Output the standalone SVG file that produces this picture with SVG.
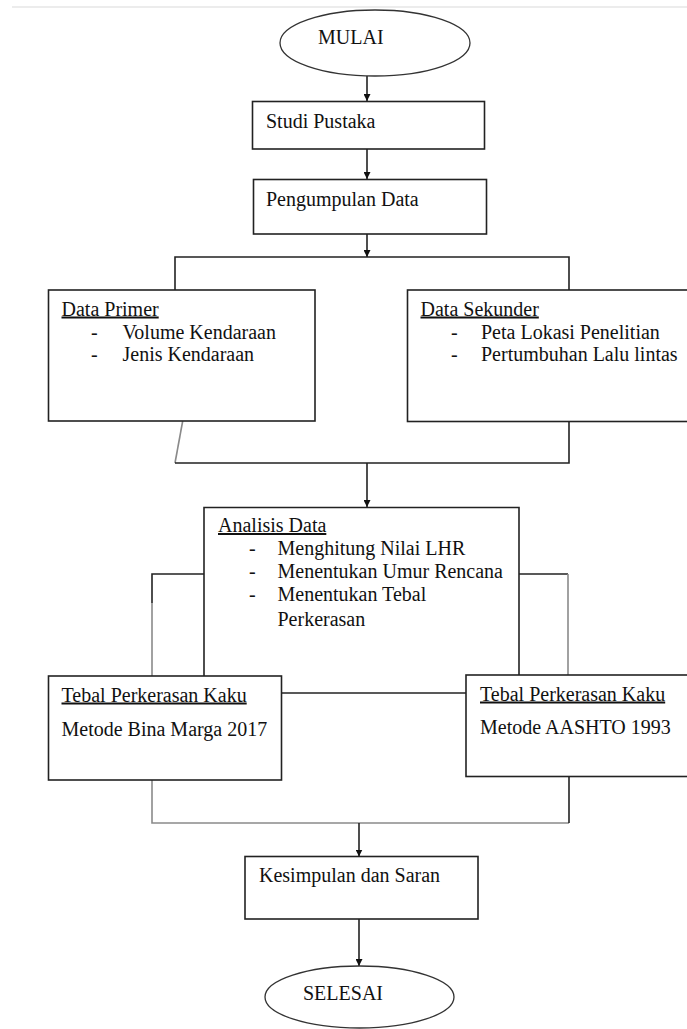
<svg xmlns="http://www.w3.org/2000/svg" width="687" height="1029" viewBox="0 0 687 1029">
<style>
.box{fill:#fff;stroke:#222;stroke-width:1.6}
.t{font-family:"Liberation Serif","Times New Roman",serif;font-size:20px;fill:#111}
.u{text-decoration:underline}
.c{fill:none;stroke:#222;stroke-width:1.6}
.g{fill:none;stroke:#8a8a8a;stroke-width:1.6}
</style>
<defs>
<marker id="ah" viewBox="0 0 10 10" refX="10" refY="5" markerWidth="7" markerHeight="7" markerUnits="userSpaceOnUse" orient="auto">
<path d="M0,0 L10,5 L0,10 z" fill="#111"/>
</marker>
</defs>
<rect width="687" height="1029" fill="#fff"/>
<line x1="12" y1="7" x2="687" y2="7" stroke="#ececec" stroke-width="2"/>
<g id="connectors">
<line class="c" x1="367" y1="76" x2="367" y2="101" marker-end="url(#ah)"/>
<line class="c" x1="367" y1="149" x2="367" y2="179" marker-end="url(#ah)"/>
<line class="c" x1="367" y1="234" x2="367" y2="257" marker-end="url(#ah)"/>
<polyline class="c" points="175,290 175,257 569,257 569,290"/>
<line class="g" x1="182.7" y1="421" x2="175" y2="463"/>
<polyline class="c" points="175,463 569,463 569,421"/>
<line class="c" x1="367" y1="463" x2="367" y2="507" marker-end="url(#ah)"/>
<polyline class="c" points="204,574 152,574 152,603"/>
<line class="g" x1="152" y1="603" x2="152" y2="676"/>
<line class="c" x1="519" y1="574" x2="568" y2="574"/>
<line class="g" x1="568" y1="574" x2="568" y2="675"/>
<line class="c" x1="282" y1="693" x2="466" y2="693"/>
<polyline class="g" points="152,780 152,823 569,823"/>
<line class="c" x1="569" y1="777" x2="569" y2="823"/>
<line class="c" x1="359" y1="823" x2="359" y2="856.5" marker-end="url(#ah)"/>
<line class="c" x1="359" y1="919" x2="359" y2="966" marker-end="url(#ah)"/>
</g>
<g id="mulai">
<ellipse cx="375" cy="43" rx="95" ry="33" fill="#fff" stroke="#333" stroke-width="1.3"/>
<text class="t" x="318" y="44">MULAI</text>
</g>
<g id="studi-pustaka">
<rect class="box" x="252.5" y="101.5" width="232" height="47.5"/>
<text class="t" x="266" y="128">Studi Pustaka</text>
</g>
<g id="pengumpulan-data">
<rect class="box" x="253.5" y="179.5" width="233" height="54.5"/>
<text class="t" x="266" y="206">Pengumpulan Data</text>
</g>
<g id="data-primer">
<rect class="box" x="48.5" y="290" width="266.5" height="131"/>
<text class="t u" x="61.5" y="315.5">Data Primer</text>
<text class="t" x="91" y="338.5">-</text>
<text class="t" x="122.5" y="338.5">Volume Kendaraan</text>
<text class="t" x="91" y="361">-</text>
<text class="t" x="122.5" y="361">Jenis Kendaraan</text>
</g>
<g id="data-sekunder">
<rect class="box" x="407.5" y="290" width="300" height="131.5"/>
<text class="t u" x="420.5" y="315.5">Data Sekunder</text>
<text class="t" x="451" y="338.5">-</text>
<text class="t" x="481" y="338.5">Peta Lokasi Penelitian</text>
<text class="t" x="451" y="361">-</text>
<text class="t" x="481" y="361">Pertumbuhan Lalu lintas</text>
</g>
<g id="analisis-data">
<polyline class="c" points="204,676 204,507.5 519,507.5 519,675"/>
<text class="t u" x="218" y="532">Analisis Data</text>
<text class="t" x="249" y="555">-</text>
<text class="t" x="277.5" y="555">Menghitung Nilai LHR</text>
<text class="t" x="249" y="578">-</text>
<text class="t" x="277.5" y="578">Menentukan Umur Rencana</text>
<text class="t" x="249" y="600.5">-</text>
<text class="t" x="277.5" y="600.5">Menentukan Tebal</text>
<text class="t" x="277.5" y="626">Perkerasan</text>
</g>
<g id="tebal-bina-marga">
<rect class="box" x="48.5" y="676" width="233" height="104"/>
<text class="t u" x="61.5" y="701.5">Tebal Perkerasan Kaku</text>
<text class="t" x="61.5" y="736">Metode Bina Marga 2017</text>
</g>
<g id="tebal-aashto">
<rect class="box" x="466" y="675" width="240" height="101.5"/>
<text class="t u" x="480" y="700.5">Tebal Perkerasan Kaku</text>
<text class="t" x="480" y="734">Metode AASHTO 1993</text>
</g>
<g id="kesimpulan">
<rect class="box" x="245" y="856.5" width="233" height="62.5"/>
<text class="t" x="259" y="881.5">Kesimpulan dan Saran</text>
</g>
<g id="selesai">
<ellipse cx="359.5" cy="997" rx="94.5" ry="31" fill="#fff" stroke="#333" stroke-width="1.3"/>
<text class="t" x="303" y="1000">SELESAI</text>
</g>
</svg>
